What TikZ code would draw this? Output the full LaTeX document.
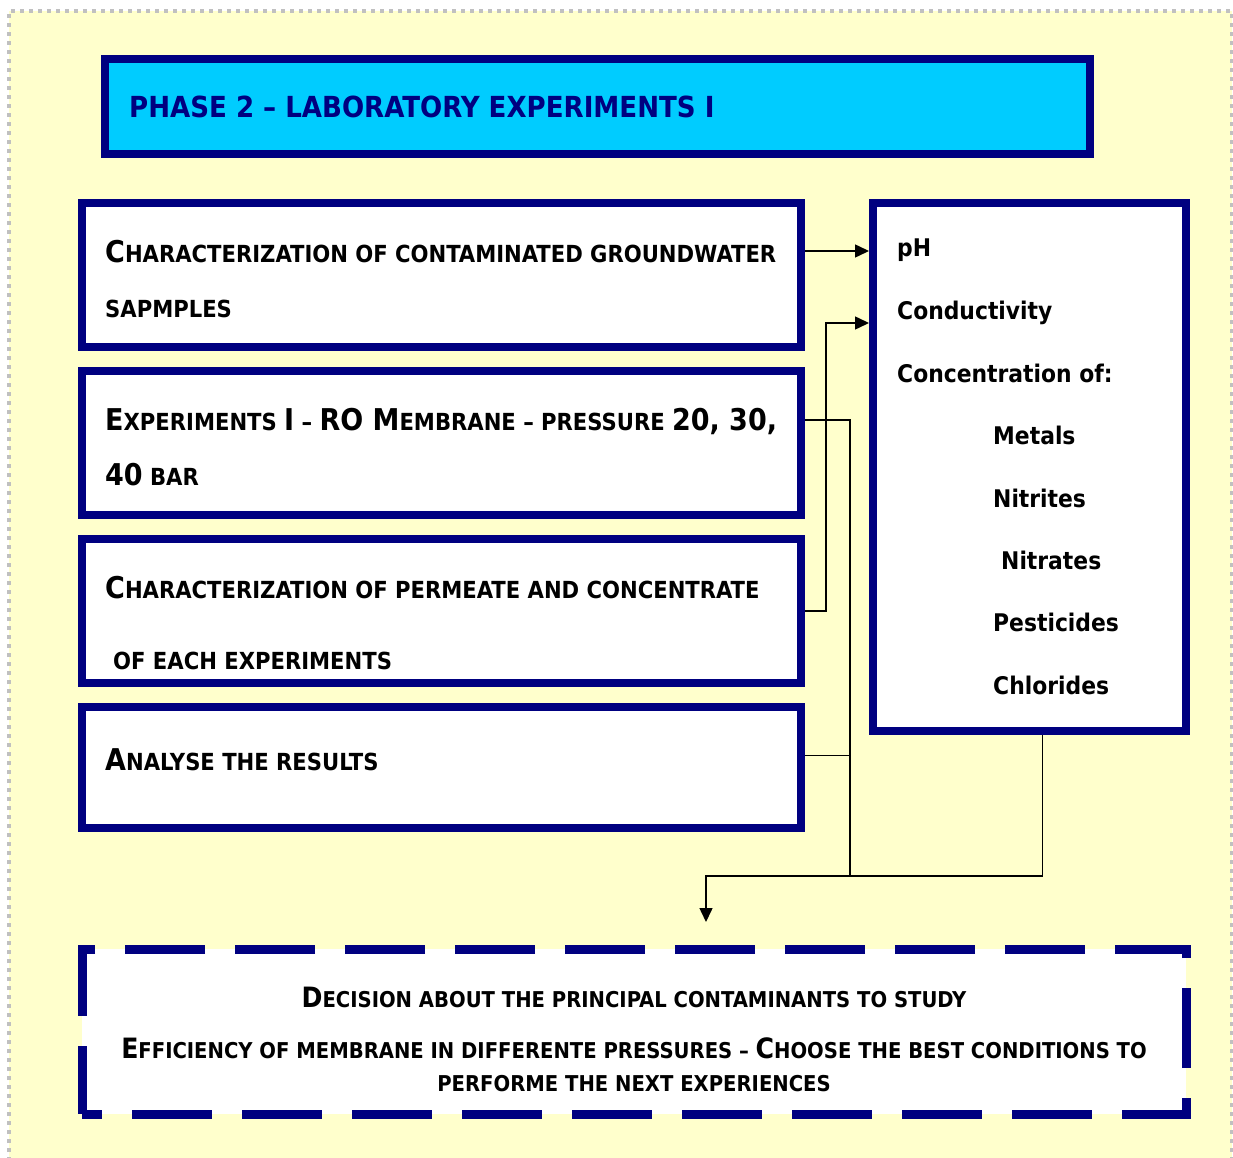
\documentclass[tikz,border=0pt]{standalone}
\usepackage{fontspec}
\setmainfont{DejaVu Sans Condensed}
\usetikzlibrary{arrows.meta}

\definecolor{navy} {RGB}{0,0,128}
\definecolor{phase}{RGB}{0,204,255}
\definecolor{pad}  {RGB}{255,255,204}
\definecolor{dots} {RGB}{192,192,192}

% big letters inside the small-caps lines
\newcommand\bc[1]{{\fontsize{30}{30}\selectfont #1}}
\newcommand\bd[1]{{\fontsize{28}{28}\selectfont #1}}

\tikzset{
  stepbox/.style={draw=navy, line width=8pt, fill=white, inner sep=0pt},
  lbl/.style={anchor=base west, inner sep=0pt, font=\bfseries\fontsize{23.5}{28}\selectfont},
  rlbl/.style={lbl, font=\bfseries\fontsize{24.3}{28}\selectfont},
  dlbl/.style={anchor=base, inner sep=0pt, font=\bfseries\fontsize{21.8}{24}\selectfont},
  conn/.style={line width=1.5pt},
  tip/.style={-{Triangle[length=14pt,width=13pt]}}
}

\begin{document}
\begin{tikzpicture}[x=1pt,y=-1pt]

    \useasboundingbox (0,0) rectangle (1233,1158);
    \fill[pad] (9,11) rectangle (1232,1170);
    \draw[dots, line width=3.5pt, dash pattern=on 4pt off 5pt] (9,1170) -- (9,11) -- (1232,11) -- (1232,1170);

    \node[stepbox, fill=phase, minimum width=984.5pt, minimum height=95pt] (title) at (597.25,106.5) {};
    \node[lbl, text=navy, font=\bfseries\fontsize{29}{34}\selectfont] (titletxt) at (129,118) {PHASE 2 \textendash{} LABORATORY EXPERIMENTS I};

    \node[stepbox, minimum width=719.5pt, minimum height=144pt] (box1) at (441.25,275) {};
    \node[stepbox, minimum width=719.5pt, minimum height=144pt] (box2) at (441.25,443) {};
    \node[stepbox, minimum width=719.5pt, minimum height=144pt] (box3) at (441.25,611) {};
    \node[stepbox, minimum width=719.5pt, minimum height=120.5pt] (box4) at (441.25,767.25) {};
    \node[stepbox, minimum width=312.5pt, minimum height=528pt] (rbox) at (1029.25,467) {};

    \node[lbl] (t1a) at (105,262) {\bc{C}HARACTERIZATION OF CONTAMINATED GROUNDWATER};
    \node[lbl] (t1b) at (105,317) {SAPMPLES};
    \node[lbl] (t2a) at (105,430) {\bc{E}XPERIMENTS \bc{I} \textendash{} \bc{RO M}EMBRANE \textendash{} PRESSURE \bc{20, 30,}};
    \node[lbl] (t2b) at (105,485) {\bc{40} BAR};
    \node[lbl] (t3a) at (105,598) {\bc{C}HARACTERIZATION OF PERMEATE AND CONCENTRATE};
    \node[lbl] (t3b) at (113,669) {OF EACH EXPERIMENTS};
    \node[lbl] (t4a) at (105,770) {\bc{A}NALYSE THE RESULTS};

    \node[rlbl] (ph)   at (897,257) {pH};
    \node[rlbl] (cond) at (897,319) {Conductivity};
    \node[rlbl] (conc) at (897,382) {Concentration of:};
    \node[rlbl] (met)  at (993,444) {Metals};
    \node[rlbl] (nti)  at (993,507) {Nitrites};
    \node[rlbl] (nta)  at (1001,569) {Nitrates};
    \node[rlbl] (pes)  at (993,631) {Pesticides};
    \node[rlbl] (chl)  at (993,694) {Chlorides};

    \node[draw=navy, fill=white, line width=9pt, dash pattern=on 80pt off 30pt, dash phase=60pt,
          inner sep=0pt, minimum width=1104pt, minimum height=165pt] (dbox) at (634,1031.5) {};
    \node[dlbl] (d1) at (634,1007) {\bd{D}ECISION ABOUT THE PRINCIPAL CONTAMINANTS TO STUDY};
    \node[dlbl] (d2) at (634,1058) {\bd{E}FFICIENCY OF MEMBRANE IN DIFFERENTE PRESSURES \textendash{} \bd{C}HOOSE THE BEST CONDITIONS TO};
    \node[dlbl] (d3) at (634,1091) {PERFORME THE NEXT EXPERIENCES};

    % connectors
    \coordinate (jn) at (850,876);
    \draw[conn,tip] ([yshift=24pt]box1.east) -- ([yshift=24pt]box1.east -| rbox.west);
    \draw[conn,tip] (box3.east) -- ++(21,0) |- ([yshift=144pt]rbox.west);
    \draw[conn] ([yshift=23pt]box2.east) -| (jn);
    \draw[conn] ([yshift=12pt]box4.east) -- ([yshift=12pt]box4.east -| jn);
    \draw[conn] ([xshift=13pt]rbox.south) |- (jn);
    \draw[conn,tip] (jn) -| ([xshift=72pt,yshift=22.5pt]dbox.north);

\end{tikzpicture}
\end{document}
